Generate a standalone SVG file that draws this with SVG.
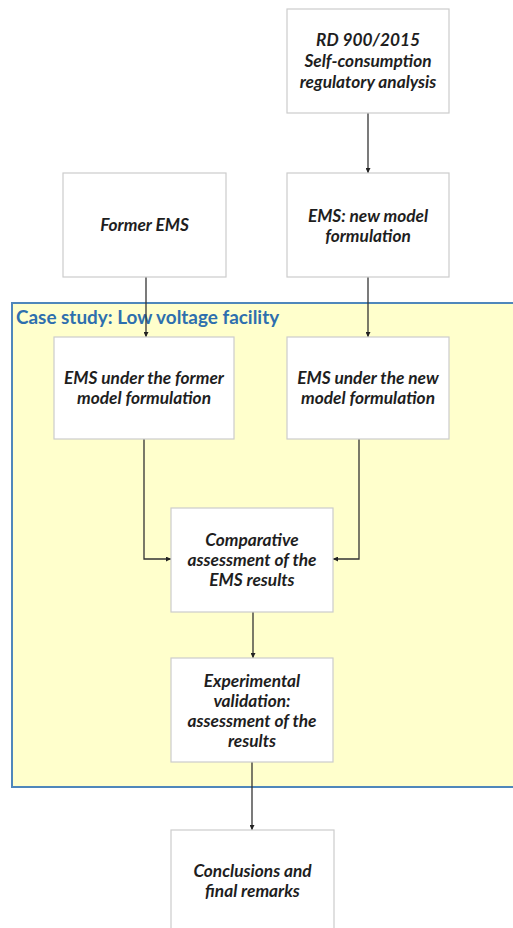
<svg xmlns="http://www.w3.org/2000/svg" width="513" height="928" viewBox="0 0 513 928">
  <style>
    .box { fill: #ffffff; stroke: #cccccc; stroke-width: 1.2; }
    .lbl { font-family: Lato, "Liberation Sans", sans-serif; font-weight: bold; font-style: italic; font-size: 17.3px; fill: #1e1e1e; text-anchor: middle; }
    .conn { fill: none; stroke: #333333; stroke-width: 1.3; }
    .region { fill: #ffffcc; stroke: #4f87bb; stroke-width: 2; }
    .title { font-family: Lato, "Liberation Sans", sans-serif; font-weight: bold; font-size: 18.9px; fill: #2e6fae; }
  </style>
  <defs>
    <marker id="arr" viewBox="0 0 6 6" refX="6" refY="3" markerWidth="5" markerHeight="5" orient="auto" markerUnits="userSpaceOnUse">
      <path d="M0,0 L6,3 L0,6 Z" fill="#222222"/>
    </marker>
  </defs>
  <rect width="513" height="928" fill="#ffffff"/>
  <g id="case-study">
    <rect class="region" x="12" y="303" width="510" height="484"/>
    <text class="title" x="16" y="324">Case study: Low voltage facility</text>
  </g>
  <g id="connectors">
    <path class="conn" d="M368,113 V173" marker-end="url(#arr)"/>
    <path class="conn" d="M146,277 V337" marker-end="url(#arr)"/>
    <path class="conn" d="M368,277 V337" marker-end="url(#arr)"/>
    <path class="conn" d="M144,439 V559 H171" marker-end="url(#arr)"/>
    <path class="conn" d="M359,439 V559 H333" marker-end="url(#arr)"/>
    <path class="conn" d="M253,612 V658" marker-end="url(#arr)"/>
    <path class="conn" d="M252,762 V830" marker-end="url(#arr)"/>
  </g>
  <g id="rd900">
    <rect class="box" x="287" y="9" width="162" height="104"/>
    <text class="lbl" x="368" y="46">RD 900/2015</text>
    <text class="lbl" x="368" y="67">Self-consumption</text>
    <text class="lbl" x="368" y="88">regulatory analysis</text>
  </g>
  <g id="former-ems">
    <rect class="box" x="63" y="173" width="163" height="104"/>
    <text class="lbl" x="144.5" y="231">Former EMS</text>
  </g>
  <g id="ems-new">
    <rect class="box" x="287" y="173" width="162" height="104"/>
    <text class="lbl" x="368" y="222">EMS: new model</text>
    <text class="lbl" x="368" y="242">formulation</text>
  </g>
  <g id="ems-former-model">
    <rect class="box" x="54" y="337" width="180" height="102"/>
    <text class="lbl" x="144" y="384">EMS under the former</text>
    <text class="lbl" x="144" y="404">model formulation</text>
  </g>
  <g id="ems-new-model">
    <rect class="box" x="287" y="337" width="162" height="102"/>
    <text class="lbl" x="368" y="384">EMS under the new</text>
    <text class="lbl" x="368" y="404">model formulation</text>
  </g>
  <g id="comparative">
    <rect class="box" x="171" y="508" width="162" height="104"/>
    <text class="lbl" x="252" y="546">Comparative</text>
    <text class="lbl" x="252" y="566">assessment of the</text>
    <text class="lbl" x="252" y="586">EMS results</text>
  </g>
  <g id="experimental">
    <rect class="box" x="171" y="658" width="162" height="104"/>
    <text class="lbl" x="252" y="687">Experimental</text>
    <text class="lbl" x="252" y="707">validation:</text>
    <text class="lbl" x="252" y="727">assessment of the</text>
    <text class="lbl" x="252" y="747">results</text>
  </g>
  <g id="conclusions">
    <rect class="box" x="171" y="830" width="163" height="110"/>
    <text class="lbl" x="252.5" y="877">Conclusions and</text>
    <text class="lbl" x="252.5" y="897">final remarks</text>
  </g>
</svg>
